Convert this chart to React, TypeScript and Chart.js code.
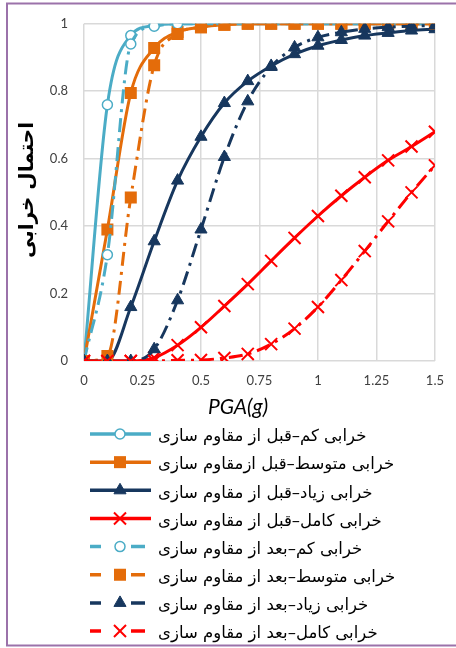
import React, { useEffect, useRef } from "react";
import { Chart, registerables } from "chart.js";

Chart.register(...registerables);

// ---------- data ----------
const pga = [0, 0.1, 0.2, 0.3, 0.4, 0.5, 0.6, 0.7, 0.8, 0.9, 1.0, 1.1, 1.2, 1.3, 1.4, 1.5];

const slightBefore = [0, 0.76, 0.965, 0.995, 1, 1, 1, 1, 1, 1, 1, 1, 1, 1, 1, 1];
const moderateBefore = [0, 0.39, 0.795, 0.928, 0.976, 0.99, 0.997, 1, 1, 1, 1, 1, 1, 1, 1, 1];
const extensiveBefore = [0, 0.0, 0.16, 0.355, 0.535, 0.665, 0.765, 0.83, 0.875, 0.91, 0.935, 0.952, 0.965, 0.973, 0.98, 0.984];
const completeBefore = [0, 0, 0, 0.01, 0.047, 0.1, 0.163, 0.228, 0.297, 0.365, 0.43, 0.49, 0.545, 0.595, 0.636, 0.68];

const slightAfter = [0, 0.315, 0.94, 0.993, 1, 1, 1, 1, 1, 1, 1, 1, 1, 1, 1, 1];
const moderateAfter = [0, 0.015, 0.485, 0.877, 0.97, 0.99, 0.997, 1, 1, 1, 1, 1, 1, 1, 1, 1];
const extensiveAfter = [0, 0, 0, 0.035, 0.18, 0.39, 0.605, 0.77, 0.872, 0.93, 0.96, 0.975, 0.985, 0.99, 0.993, 0.995];
const completeAfter = [0, 0, 0, 0, 0.002, 0.003, 0.009, 0.021, 0.05, 0.096, 0.16, 0.24, 0.326, 0.414, 0.5, 0.58];

const seriesNames = [
  "خرابی کم–قبل از مقاوم سازی",
  "خرابی متوسط–قبل ازمقاوم سازی",
  "خرابی زیاد–قبل از مقاوم سازی",
  "خرابی کامل–قبل از مقاوم سازی",
  "خرابی کم–بعد از مقاوم سازی",
  "خرابی متوسط–بعد از مقاوم سازی",
  "خرابی زیاد–بعد از مقاوم سازی",
  "خرابی کامل–بعد از مقاوم سازی",
];

const xTicks = [0, 0.25, 0.5, 0.75, 1, 1.25, 1.5];
const xTickLabels = ["0", "0.25", "0.5", "0.75", "1", "1.25", "1.5"];
const yTicks = [0, 0.2, 0.4, 0.6, 0.8, 1];
const yTickLabels = ["0", "0.2", "0.4", "0.6", "0.8", "1"];

const xTitle = "PGA(g)";
const yTitle = "احتمال خرابی";

// ---------- styles ----------
const LIGHT_BLUE = "#4bacc6";
const ORANGE = "#e46c0a";
const NAVY = "#17375e";
const RED = "#ff0000";
const FRAME = "#9b72aa";
const DASH = [14, 6, 3, 6];

type Style = {
  color: string;
  point: string;
  radius: number;
  pbw: number;
  fill: string;
  dashed: boolean;
};

const styles: Style[] = [
  { color: LIGHT_BLUE, point: "circle", radius: 5, pbw: 1.5, fill: "#ffffff", dashed: false },
  { color: ORANGE, point: "rect", radius: 8.5, pbw: 0, fill: ORANGE, dashed: false },
  { color: NAVY, point: "triangle", radius: 7, pbw: 1, fill: NAVY, dashed: false },
  { color: RED, point: "crossRot", radius: 8.5, pbw: 2, fill: RED, dashed: false },
  { color: LIGHT_BLUE, point: "circle", radius: 5, pbw: 1.5, fill: "#ffffff", dashed: true },
  { color: ORANGE, point: "rect", radius: 8.5, pbw: 0, fill: ORANGE, dashed: true },
  { color: NAVY, point: "triangle", radius: 7, pbw: 1, fill: NAVY, dashed: true },
  { color: RED, point: "crossRot", radius: 8.5, pbw: 2, fill: RED, dashed: true },
];

const seriesValues = [
  slightBefore,
  moderateBefore,
  extensiveBefore,
  completeBefore,
  slightAfter,
  moderateAfter,
  extensiveAfter,
  completeAfter,
];

function drawMarker(ctx: CanvasRenderingContext2D, s: Style, x: number, y: number) {
  ctx.save();
  ctx.setLineDash([]);
  ctx.fillStyle = s.fill;
  ctx.strokeStyle = s.color;
  ctx.lineWidth = s.pbw;
  const r = s.radius;
  ctx.beginPath();
  if (s.point === "circle") {
    ctx.arc(x, y, r, 0, Math.PI * 2);
    ctx.fill();
    ctx.stroke();
  } else if (s.point === "rect") {
    const h = r * Math.SQRT1_2;
    ctx.rect(x - h, y - h, 2 * h, 2 * h);
    ctx.fill();
  } else if (s.point === "triangle") {
    let a = 0;
    ctx.moveTo(x + Math.sin(a) * r, y - Math.cos(a) * r);
    a += (2 * Math.PI) / 3;
    ctx.lineTo(x + Math.sin(a) * r, y - Math.cos(a) * r);
    a += (2 * Math.PI) / 3;
    ctx.lineTo(x + Math.sin(a) * r, y - Math.cos(a) * r);
    ctx.closePath();
    ctx.fill();
    ctx.stroke();
  } else {
    const h = r * Math.SQRT1_2;
    ctx.moveTo(x - h, y - h);
    ctx.lineTo(x + h, y + h);
    ctx.moveTo(x + h, y - h);
    ctx.lineTo(x - h, y + h);
    ctx.stroke();
  }
  ctx.restore();
}

const decorPlugin = {
  id: "decor",
  afterDraw(chart: any) {
    const ctx: CanvasRenderingContext2D = chart.ctx;
    ctx.save();
    // frame
    ctx.strokeStyle = FRAME;
    ctx.lineWidth = 2;
    ctx.strokeRect(7, 3.5, 470, 642);

    // y title
    ctx.save();
    ctx.translate(28, 190);
    ctx.rotate(-Math.PI / 2);
    ctx.font = 'bold 20px "DejaVu Sans"';
    ctx.fillStyle = "#000";
    ctx.textAlign = "center";
    ctx.textBaseline = "middle";
    (ctx as any).direction = "rtl";
    ctx.fillText(yTitle, 0, 0);
    ctx.restore();

    // x title
    ctx.font = 'italic 21px Lato';
    ctx.fillStyle = "#000";
    ctx.textAlign = "center";
    ctx.textBaseline = "middle";
    ctx.fillText(xTitle, 238, 407);

    // legend
    const top = 434;
    const step = 28.15;
    styles.forEach((s, i) => {
      const y = top + i * step;
      ctx.save();
      ctx.strokeStyle = s.color;
      ctx.lineWidth = 3.5;
      ctx.lineCap = "butt";
      ctx.beginPath();
      if (s.dashed) {
        ctx.moveTo(90, y);
        ctx.lineTo(101, y);
        ctx.moveTo(131, y);
        ctx.lineTo(145, y);
      } else {
        ctx.moveTo(90, y);
        ctx.lineTo(151, y);
      }
      ctx.stroke();
      ctx.restore();
      drawMarker(ctx, s, 120, y);

      ctx.save();
      ctx.font = '16.5px "DejaVu Sans"';
      ctx.fillStyle = "#000";
      (ctx as any).direction = "rtl";
      ctx.textAlign = "left";
      ctx.textBaseline = "middle";
      ctx.fillText(seriesNames[i], 158, y + 3);
      ctx.restore();
    });
    ctx.restore();
  },
};

export default function App() {
  const ref = useRef<HTMLCanvasElement | null>(null);

  useEffect(() => {
    if (!ref.current) return;
    const datasets = seriesValues.map((vals, i) => {
      const s = styles[i];
      return {
        label: seriesNames[i],
        data: pga.map((x, k) => ({ x, y: vals[k] })),
        borderColor: s.color,
        backgroundColor: s.fill,
        borderWidth: 3,
        borderDash: s.dashed ? DASH : [],
        borderCapStyle: "butt" as const,
        pointStyle: s.point as any,
        pointRadius: s.radius,
        pointBorderWidth: s.pbw,
        pointBorderColor: s.color,
        pointBackgroundColor: s.fill,
        cubicInterpolationMode: "monotone" as const,
        fill: false,
        order: 10 - i,
      };
    });

    const chart = new Chart(ref.current, {
      type: "line",
      data: { datasets },
      options: {
        responsive: false,
        animation: false,
        devicePixelRatio: 1,
        layout: { padding: { left: 0, right: 18, top: 18, bottom: 257 } },
        plugins: { legend: { display: false }, tooltip: { enabled: false } },
        scales: {
          x: {
            type: "linear",
            min: 0,
            max: 1.5,
            afterBuildTicks: (scale: any) => {
              scale.ticks = xTicks.map((v) => ({ value: v }));
            },
            afterFit: (scale: any) => {
              scale.height = 30;
            },
            grid: { color: "#d9d9d9", lineWidth: 1.5, drawTicks: false },
            border: { display: false },
            ticks: {
              padding: 12,
              color: "#404040",
              font: { family: "Lato", size: 13 },
              maxRotation: 0,
              callback: (v: any) => {
                const idx = xTicks.findIndex((t) => Math.abs(t - Number(v)) < 1e-9);
                return idx >= 0 ? xTickLabels[idx] : "";
              },
            },
          },
          y: {
            type: "linear",
            min: 0,
            max: 1,
            afterBuildTicks: (scale: any) => {
              scale.ticks = yTicks.map((v) => ({ value: v }));
            },
            afterFit: (scale: any) => {
              scale.width = 84;
            },
            grid: { color: "#d9d9d9", lineWidth: 1.5, drawTicks: false },
            border: { display: false },
            ticks: {
              padding: 16,
              color: "#404040",
              font: { family: "Lato", size: 13 },
              callback: (v: any) => {
                const idx = yTicks.findIndex((t) => Math.abs(t - Number(v)) < 1e-9);
                return idx >= 0 ? yTickLabels[idx] : "";
              },
            },
          },
        },
      },
      plugins: [decorPlugin],
    });
    return () => chart.destroy();
  }, []);

  return (
    <div style={{ position: "fixed", left: 0, top: 0, width: 456, height: 648, background: "#fff" }}>
      <canvas ref={ref} width={456} height={648} style={{ display: "block" }} />
    </div>
  );
}
